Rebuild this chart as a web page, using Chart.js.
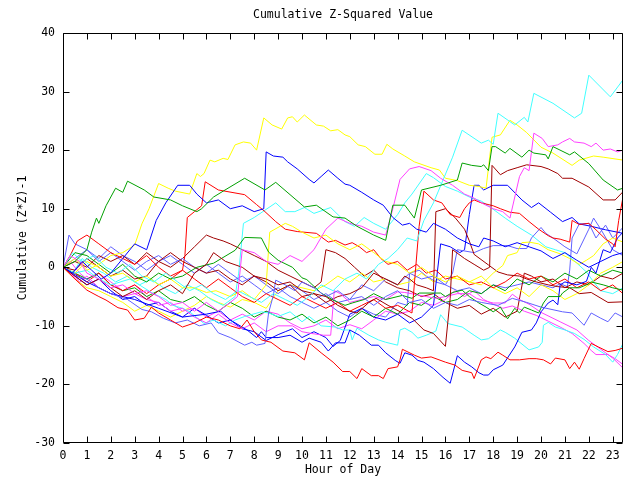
<!DOCTYPE html>
<html><head><meta charset="utf-8">
<script src="https://cdn.jsdelivr.net/npm/chart.js@4.4.0/dist/chart.umd.min.js"></script>
<style>html,body{margin:0;padding:0;background:#fff}#wrap{width:640px;height:480px}</style>
</head><body><div id="wrap"><canvas id="c" width="640" height="480"></canvas></div>
<script>
const xTicks = [0,1,2,3,4,5,6,7,8,9,10,11,12,13,14,15,16,17,18,19,20,21,22,23];
const yTicks = [-30,-20,-10,0,10,20,30,40];

// each series: [hour, cumulative value]
const redLow = [[0,0],[0.5,-2],[1,-3.9],[1.5,-5],[1.8,-5.6],[2.3,-6.9],[2.7,-7.3],[3,-9],[3.4,-8.7],[3.7,-6.8],[4,-7.8],[4.5,-9],[5,-10.2],[5.5,-9.5],[6,-8.5],[6.5,-9],[7,-10],[7.4,-10.5],[7.7,-9],[8,-11],[8.3,-12.4],[8.7,-12.8],[9.2,-14.3],[9.7,-14.6],[10.1,-15.8],[10.3,-12.9],[10.8,-14.6],[11.3,-16.2],[11.7,-17.8],[12,-17.8],[12.3,-19],[12.5,-17.3],[12.9,-18.5],[13.2,-18.5],[13.4,-19],[13.6,-17.3],[14,-17],[14.1,-15.8],[14.2,-14],[14.7,-15],[15,-15.5],[15.4,-15.3],[16,-16.2],[16.4,-16.7],[16.7,-17.6],[17.1,-18],[17.2,-19],[17.5,-15.8],[17.7,-15.3],[17.9,-15.6],[18.2,-14.5],[18.4,-15],[18.7,-15.8],[19.1,-15.8],[19.5,-15.6],[19.8,-15.6],[20.1,-15.8],[20.4,-16.5],[20.6,-15.5],[21,-15.8],[21.2,-17.3],[21.4,-16.2],[21.6,-17.4],[21.8,-15.6],[22.1,-13],[22.4,-13.6],[22.8,-14.4],[23.1,-14.2],[23.43,-13.8]];
const greenTop = [[0,0],[0.5,1],[1,3],[1.2,6],[1.4,8.4],[1.5,7.5],[1.8,10.5],[2.2,13.5],[2.5,12.8],[2.7,14.7],[3.4,13.2],[3.8,12],[4.5,11.5],[5,10.5],[5.6,9.5],[5.8,10],[6.3,12],[6.7,13],[7.6,15.2],[8.45,13.2],[8.9,14.5],[10.1,10.3],[10.6,10.6],[11.3,8.6],[11.8,8.4],[12.3,7],[13,5.5],[13.5,4.6],[13.8,10.6],[14.3,10.6],[14.7,8.4],[15,13.2],[15.8,14],[16.5,14.9],[16.7,17.8],[17.1,17.4],[17.5,17.2],[17.6,17.5],[17.8,16.5],[17.95,20.6],[18.1,20.6],[18.5,19.5],[18.7,20.3],[19.2,18.8],[19.5,20],[19.7,19.5],[20.2,19.2],[20.3,18.5],[20.5,20.6],[21.2,19.2],[21.4,19.7],[22,17.7],[22.6,14.9],[23.2,13.2],[23.43,13.5]];
const blueA = [[0,0],[0.4,-1],[0.8,1],[1.2,-0.5],[1.6,-2],[2,-1],[2.5,1.5],[3,4],[3.5,3],[3.9,8],[4.3,11],[4.8,14],[5.3,14],[5.6,12.5],[6,11],[6.5,11.5],[7,10],[7.5,10.5],[8,9.5],[8.4,10],[8.5,19.7],[8.8,19],[9.2,18.8],[9.4,18],[9.8,16.8],[10.3,15],[10.5,14.4],[10.8,15.5],[11.1,16.6],[11.5,15.2],[11.8,14.2],[12,14],[12.5,12.8],[13,11.5],[13.4,10.6],[13.8,8.5],[14.2,7.2],[14.5,7.5],[14.8,6.5],[15.2,6],[15.5,7.5],[16,6.5],[16.5,5],[17,4],[17.4,3.5],[17.6,5],[18,4.5],[18.5,3.5],[19,4.2],[19.5,3.5],[20,2.8],[20.5,1.5],[21,2.5],[21.5,1.2],[22,0],[22.5,1],[23,2],[23.43,2.5]];
const magentaA = [[0,0],[0.3,2],[0.7,1],[1,-1],[1.5,-2],[2,-3.5],[2.5,-3],[3,-4.5],[3.5,-4],[4,-5],[4.5,-6.5],[5,-6],[5.5,-7.5],[6,-6],[6.5,-7.5],[7,-6],[7.3,-5],[7.5,3],[8,2.5],[8.5,1],[9,0.5],[9.5,2],[10,1],[10.5,3],[11,6.5],[11.5,8.4],[12,7.5],[12.5,7],[13,6],[13.5,5.5],[13.8,10],[14.1,15],[14.5,16.8],[14.9,17.2],[15.4,16.5],[15.8,15.2],[16.3,14],[16.8,12.5],[17.2,11.8],[17.6,10.8],[18,10],[18.4,9.5],[18.7,8.4],[19.1,15.5],[19.3,17],[19.5,16.5],[19.7,22.9],[20.05,22],[20.3,20.6],[20.7,20.9],[20.9,21.4],[21.2,22],[21.4,21.4],[21.8,21.2],[22.1,20.6],[22.3,21.2],[22.6,20],[22.9,20.2],[23.2,19.7],[23.43,20]];
const cyanA = [[0,0],[0.4,2.5],[0.8,1],[1.3,2],[1.8,0],[2.3,-1],[2.8,0.5],[3.3,-1.5],[3.8,-2.5],[4.3,-1],[4.8,-2.5],[5.3,-4],[5.8,-3],[6.3,-4.5],[6.8,-5.5],[7.3,-4],[7.8,-5],[8.3,-6],[8.8,-4.5],[9.3,-5.5],[9.8,-6.5],[10.3,-5],[10.8,-3],[11.3,-4],[11.8,-2],[12.3,-1],[12.7,-2],[13.2,0.5],[13.6,1.5],[14,3],[14.4,5],[14.8,4.5],[15.1,8],[15.5,11],[15.9,14.9],[16.3,18.8],[16.7,23.4],[17.5,21.2],[17.8,21.7],[18,21],[18.2,26.3],[18.9,24.3],[19.3,25.6],[19.45,24.8],[19.7,29.7],[20.5,28],[21.4,25.5],[21.7,26.3],[22,32.8],[22.9,29.1],[23.43,32]];
const yellowA = [[0,0],[0.5,1.5],[1,-0.5],[1.5,0.5],[2,2],[2.5,2.5],[3,3.8],[3.3,7.4],[3.6,10],[4,14.3],[4.4,13.5],[4.7,13],[5.3,12.5],[5.6,16],[5.75,15.5],[5.9,16],[6.15,18.3],[6.35,18],[6.7,18.6],[6.9,18.4],[7.2,20.9],[7.55,21.4],[7.85,21.2],[8.1,20],[8.4,25.5],[8.75,24.3],[9.15,23.6],[9.4,25.5],[9.6,25.7],[9.8,24.8],[10.1,26],[10.6,24.3],[10.9,24.1],[11.2,23.3],[11.5,23.5],[11.8,22.6],[12,22.3],[12.35,20.9],[12.65,20.6],[13.05,19.3],[13.35,19.3],[13.55,21],[13.8,20.2],[14.3,19],[14.7,18],[15.4,17],[15.75,16.6],[16,15.2],[16.5,14.8],[17,14],[17.4,13.8],[17.7,13.5],[17.95,22.2],[18.3,22.6],[18.7,25.1],[19,24.3],[19.4,23],[20,20.5],[20.5,19.5],[21.3,17.4],[21.6,18.3],[22.2,19],[22.6,18.8],[23.43,18.3]];
const darkredA = [[0,0],[0.5,-1.5],[1,-3],[1.5,-2],[2,-3.5],[2.5,-5],[3,-4],[3.5,-5.5],[4,-4],[4.5,-3],[5,-4.5],[5.5,-1],[6,0.5],[6.3,2.5],[6.8,1],[7.5,0],[8,-1.5],[8.5,-2],[9,-3],[9.5,-2.5],[10,-4],[10.5,-4.5],[11,-5],[11.5,-6.5],[12,-7.5],[12.3,-7.8],[12.8,-6],[13.1,-5.3],[13.6,-6.5],[14.2,-7.8],[14.6,-8.7],[15.1,-10.7],[15.5,-11.3],[16,-13.5],[16.2,-5.3],[16.3,3],[16.8,1.5],[17.2,0.5],[17.6,-0.5],[17.85,0],[17.95,17.4],[18.3,15.8],[18.6,16.5],[19,17],[19.4,17.5],[20,17.2],[20.3,16.8],[20.7,16],[20.9,15.2],[21.3,15.2],[22,13.7],[22.6,11.5],[23.1,11.5],[23.43,12.9]];
const slateLow = [[0,0],[0.5,-1.5],[1,-2],[1.5,-3.5],[2,-4.5],[2.7,-5.5],[3.3,-7.2],[3.7,-7.6],[4.2,-8.7],[4.7,-9.5],[5.2,-9],[5.7,-10],[6.2,-9.5],[6.5,-11.2],[7,-12],[7.6,-13.3],[7.9,-12.8],[8.1,-13.3],[8.45,-13],[8.6,-7.8],[8.8,-4.8],[8.9,-2.2],[9.3,-3],[9.7,-4],[10,-2.5],[10.5,-3.5],[11,-5],[11.5,-4],[12,-5.5],[12.5,-5],[13,-6.5],[13.5,-5],[14,-4],[14.5,-6],[15,-5.5],[15.5,-7],[16,-6],[16.5,-6.5],[17,-5.5],[17.5,-6],[18.2,-6.5],[18.8,-5.3],[19.4,-6],[20,-6.8],[20.9,-7.6],[21.3,-7.8],[21.8,-9.9],[22.1,-7.8],[22.5,-8.7],[22.8,-9.3],[23.1,-7.8],[23.43,-8.5]];
const redMid = [[0,0],[0.3,2],[0.6,4.5],[1,5.5],[1.5,4],[2,2.5],[2.5,1.5],[3,0.5],[3.5,2],[4,0],[4.5,-1.5],[5,-0.5],[5.5,-2],[6,-3.5],[6.5,-2],[7,-3.5],[7.5,-5],[8,-6],[8.5,-4.5],[9,-5.5],[9.5,-6.5],[10,-5],[10.5,-6],[11,-7],[11.5,-6],[12,-7.5],[12.5,-6.5],[13,-5.5],[13.5,-7],[14,-6.5],[14.6,-7.8],[14.9,7],[15.1,13],[15.5,11.5],[15.85,11],[16.2,9],[16.6,8.5],[16.8,10],[17,11],[17.2,11.5],[17.5,11],[18,10.5],[18.3,10],[18.7,9.4],[19.1,9.2],[19.5,7.8],[19.9,6.5],[20.3,5.4],[20.5,5],[20.8,4.8],[21.2,4.3],[21.3,8],[21.6,7.3],[22,7.5],[22.3,6.4],[22.7,4.8],[23,4],[23.1,3.5],[23.25,8],[23.43,12]];
const redHigh = [[0,0],[0.5,-1],[1,-2.5],[1.5,-1],[2,-3],[2.5,-4],[3,-3],[3.5,-4.5],[4,-3],[4.5,-2],[5,-0.5],[5.1,2],[5.2,8.5],[5.5,9.5],[5.8,10.5],[5.95,14.6],[6.5,13.2],[7.6,12.4],[8.1,10.7],[8.45,9.5],[8.9,7.8],[9.3,6.5],[9.8,6.1],[10.6,5.8],[11.1,4.3],[11.4,4.6],[11.8,3.8],[12.1,4.2],[12.4,3.5],[12.7,2.5],[13,3],[13.3,1.5],[13.6,0.5],[14,1],[14.4,-0.5],[14.8,0.5],[15.2,-1],[15.6,-0.5],[16,-2],[16.5,-1.5],[17,-3],[17.5,-2.5],[18,-3.5],[18.5,-2.5],[19,-1],[19.5,-2],[20,-1.5],[20.5,-3],[21,-2],[21.5,-3.5],[22,-2.5],[22.5,-4],[23,-3],[23.43,-4.5]];
const greenMid = [[0,0],[0.5,2.5],[1,2],[1.5,0.5],[2,-1],[2.5,0.5],[3,-1.5],[3.5,-2.5],[4,-1],[4.5,-2],[5,-1.5],[5.6,0],[6.3,0.7],[7.2,2.9],[7.6,5.1],[8.3,5],[8.6,2.6],[9,1.2],[9.6,0],[10,-1.8],[10.2,-2.1],[10.8,-4.4],[11.3,-5.6],[11.8,-6.5],[12.1,-6.1],[12.6,-5.5],[13,-4.5],[13.5,-5.5],[14.2,-4.8],[14.6,-5.3],[14.9,-4.4],[15.8,-4.4],[16,-5],[16.3,-4.3],[16.7,-3.9],[17,-5],[17.4,-6.1],[17.7,-6.8],[18,-7.6],[18.3,-6.8],[18.6,-8.8],[18.9,-7],[19.1,-7.8],[19.3,-6.8],[19.6,-7.3],[19.9,-7.8],[20.1,-6.1],[20.3,-5],[20.8,-5],[20.9,-4.4],[21.2,-3.5],[21.6,-3.5],[21.9,-3],[22.1,-2.5],[22.6,-3],[23,-3.5],[23.43,-3.9]];
const blueLow = [[0,0],[1,-2.5],[2,-4.5],[3,-5.5],[4,-7],[5,-8.5],[6,-8],[6.6,-7.5],[7,-9],[7.7,-10.7],[8.1,-12],[8.3,-11],[8.5,-12],[9,-12],[9.5,-11.6],[10,-12.8],[10.3,-12.1],[10.8,-12.8],[11.1,-14.3],[11.4,-12.9],[11.8,-12.9],[12,-10.7],[12.4,-11.6],[12.9,-13.3],[13.2,-13.3],[13.5,-14.6],[13.9,-15.9],[14.1,-16.4],[14.3,-14.6],[14.6,-15],[14.85,-15.9],[15.1,-16.2],[15.5,-17.3],[15.9,-18.8],[16.2,-19.8],[16.5,-15.1],[16.8,-16.2],[17.1,-17],[17.4,-18],[17.6,-18.4],[17.8,-18.4],[18,-17.5],[18.4,-16.7],[18.9,-13.6],[19.2,-11.1],[19.6,-10.7],[19.8,-9.5],[20,-7.6],[20.3,-6.1],[20.5,-5.6],[20.7,-6.4],[20.8,-3],[21,-2.5],[21.5,-3],[21.9,-2.4],[22.1,0],[22.3,-1],[22.6,3],[22.9,2.5],[23.2,5],[23.43,6]];
const magentaB = [[0,0],[0.3,-1],[0.7,-2.5],[1,-1.5],[1.5,-3.5],[2,-4.5],[2.5,-5],[3,-4.5],[3.5,-5.5],[4,-6],[4.5,-7.5],[5,-7],[5.5,-8.5],[6,-9.5],[6.5,-8],[7,-9.5],[7.5,-10.5],[8,-9.5],[8.5,-11],[9,-10],[9.6,-10],[10,-11],[10.4,-11.3],[10.9,-11.6],[11.2,-11.6],[11.35,-4],[11.6,-4.5],[12,-6],[12.5,-5.5],[13,-5],[13.5,-5.5],[14,-4.2],[14.3,-4.3],[14.7,-4.6],[15.2,-5],[15.6,-5.3],[16,-5],[16.5,-4.5],[17,-4.5],[17.3,-5.3],[17.6,-5.7],[18,-6.1],[18.5,-6.1],[18.8,-4.6],[19.1,-5.5],[19.5,-6.3],[20,-7.7],[20.8,-9.3],[21.5,-10.7],[22,-12.5],[22.5,-14],[23,-15.5],[23.43,-17.2]];
const magentaC = [[0,0],[0.3,1],[0.7,-1],[1,-2],[1.5,-1],[2,-2.5],[2.5,-4],[3,-3],[3.5,-5],[4,-6.5],[4.5,-6],[5,-7.5],[5.5,-7],[6,-8.5],[6.5,-7.5],[7,-9],[7.5,-8],[8,-9],[8.5,-7.5],[9,-8],[9.5,-9.5],[10,-10.5],[10.5,-10],[11,-9],[11.5,-10.5],[12,-9.8],[12.5,-10.5],[13,-9],[13.5,-7.5],[14,-8],[14.5,-7.5],[15,-6],[15.5,-6.5],[16,-5.5],[16.4,-4],[16.8,-5],[17.2,-4],[17.6,-5.5],[18,-6.3],[18.4,-7],[18.8,-6.6],[19.3,-7.5],[19.8,-8.2],[20.3,-9.2],[20.8,-10.2],[21.3,-11.3],[21.8,-13],[22.1,-14.2],[22.3,-14.9],[22.8,-14.9],[23.1,-15.6],[23.43,-16.6]];
const cyanLow = [[0,0],[0.5,-1],[1,-0.5],[1.5,-2],[2,-3],[2.8,-2],[3.7,-4.3],[4.3,-5.5],[4.6,-6.5],[5,-7],[5.3,-7.6],[5.9,-9.6],[6.3,-9],[6.8,-10],[7.2,-9],[7.6,-8.4],[8.3,-7.6],[8.6,-7.8],[9,-8.4],[9.5,-7.6],[10,-9.3],[10.3,-8.4],[10.8,-10],[11.4,-10.2],[11.7,-10.7],[12,-10.7],[12.1,-12.4],[12.3,-10.4],[12.8,-11.6],[13.2,-12.4],[13.5,-12.8],[14,-13.3],[14.1,-10.7],[14.3,-10.4],[14.6,-11.1],[14.85,-12.1],[15.2,-11.6],[15.6,-10.9],[15.8,-8.1],[16.1,-9.6],[16.7,-10.2],[17.2,-11.6],[17.5,-12.4],[17.8,-12.2],[18,-11.6],[18.3,-10.7],[18.5,-11.1],[18.9,-12.1],[19.5,-14.1],[19.9,-13.6],[20.05,-12.8],[20.1,-9.9],[20.3,-9.4],[20.6,-10.2],[21,-10.7],[21.4,-11.3],[21.8,-12.3],[22.2,-13.6],[22.7,-14.9],[23,-16.2],[23.2,-14.9],[23.43,-13]];
const yellowMid = [[0,0],[0.5,-1],[1,1],[1.5,0],[2,-1.5],[2.5,-1],[3,-2.5],[3.5,-1.5],[4,-3],[4.5,-2],[5,-3.5],[5.5,-3.5],[6,-4.3],[6.4,-4],[7,-5],[7.5,-4],[8,-5.5],[8.5,-3],[8.65,6],[9.3,7.5],[9.6,7],[10,6],[10.5,5],[11,5.5],[11.5,4],[12,3],[12.5,4],[13,2.5],[13.5,1],[14,0.5],[14.5,-1],[15,0],[15.5,-1.5],[16,-2.5],[16.5,-1.5],[17,-2.5],[17.5,-3],[18,-1],[18.4,0.3],[18.6,2],[19,2.5],[19.2,4.2],[19.5,4.3],[19.9,4],[20.3,3],[20.8,2.3],[21.2,1.5],[21.6,0.5],[21.9,1.2],[22.2,2],[22.6,4],[23,5],[23.43,4.3]];
const yellowLow = [[0,0],[0.5,-2],[1,-3.5],[1.5,-4],[2,-5],[2.5,-6],[3,-7.5],[3.5,-6.5],[4,-7.5],[4.5,-8.5],[5,-7.5],[5.5,-6.5],[6,-5],[6.5,-6],[7,-6.8],[7.5,-5.5],[8,-6],[8.5,-7],[9,-4],[9.5,-3],[10,-3.5],[10.5,-4],[11,-3],[11.5,-1.5],[12,-2.5],[12.5,-1],[13,-2.5],[13.5,-2],[14,-3],[14.5,-2.5],[15,-1],[15.5,-2.5],[16,-1.5],[16.5,-2],[17,-2.5],[17.5,-1.5],[18,-3.5],[18.5,-4.5],[19,-3.5],[19.5,-5],[20,-3],[20.5,-4],[21,-5.5],[21.5,-4.5],[22,-3],[22.5,-1],[23,0],[23.43,1]];
const darkredB = [[0,0],[0.5,-0.5],[1,1.5],[1.5,0],[2,-1.5],[2.5,-0.5],[3,-2],[3.5,-1.5],[4,1],[4.5,2.5],[5,1],[5.5,0],[6,-1],[6.5,-0.5],[7,-2],[7.5,-3],[8,-1.5],[8.5,-2.5],[9,-4],[9.5,-3],[10,-5],[10.5,-4.5],[11,-6],[11.5,-5],[12,-4.5],[12.5,-3.5],[13,-1],[13.5,-2],[14,-3],[14.3,-1.5],[14.5,-2],[14.8,-3],[15.2,-3.5],[15.5,-4],[15.6,9.5],[16,10],[16.4,8.5],[16.8,6.5],[17,4.5],[17.2,2.2],[17.8,0.4],[18.2,-0.8],[18.6,-1.3],[19.1,-1.5],[19.4,-2],[19.8,-2.5],[20.3,-3],[20.7,-3.3],[21.2,-3.5],[21.6,-4.5],[22.1,-4.3],[22.8,-6],[23.43,-5.9]];
const darkredC = [[0,0],[0.5,1],[1,0],[1.5,2],[2,1],[2.5,2],[3,0.5],[3.5,2.5],[4,1],[4.5,0],[5,1.5],[5.5,3.5],[6,5.5],[6.3,5],[6.7,4.5],[7,4],[7.5,3],[8,2],[8.5,1],[9,-0.5],[9.5,-1.5],[10,-2.5],[10.5,-3.5],[10.8,-2.5],[11,3],[11.4,2.5],[11.8,1.5],[12.2,0],[12.6,-1.5],[13,-0.5],[13.5,-2.5],[14,-3.5],[14.5,-4],[15,-5],[15.5,-4.5],[16,-6],[16.5,-7],[17,-6.5],[17.5,-8],[18,-7],[18.5,-8.5],[19,-7.5],[19.3,-1],[19.6,-1.5],[20,-2.5],[20.5,-2],[21,-3.5],[21.5,-2.5],[22,-3],[22.5,-1.5],[23,-2],[23.43,-1]];
const blueC = [[0,0],[0.5,-1.5],[1,-3],[1.5,-2],[2,-4],[2.5,-5.5],[3,-5],[3.5,-6.5],[4,-6],[4.5,-7.5],[5,-8.5],[5.5,-7],[6,-8.2],[6.5,-9.5],[7,-9],[7.5,-10.5],[8,-11],[8.5,-12.5],[9,-11.5],[9.3,-11],[9.6,-10.5],[10,-12],[10.5,-11],[11,-12],[11.3,-13.5],[11.6,-12.5],[12,-8],[12.5,-7],[13,-8.5],[13.5,-9],[14,-8],[14.5,-9.5],[15,-8.5],[15.5,-6.5],[15.8,4],[16.2,3.5],[16.6,2.5],[16.8,3],[17,9],[17.2,14],[17.4,14],[17.6,13.2],[18,14],[18.6,14],[19.2,11.5],[19.6,10.2],[19.9,11],[20.4,9.4],[20.9,7.8],[21.3,8.5],[21.6,7.4],[22.1,7],[22.7,6.4],[23.43,5.8]];
const blueD = [[0,0],[0.5,1.5],[1,3],[1.5,1.5],[2,3.5],[2.5,2],[3,1],[3.5,-0.5],[4,1],[4.5,2],[5,0.5],[5.5,-1],[6,0.5],[6.5,-1],[7,-2.5],[7.5,-1.5],[8,-3],[8.5,-4.5],[9,-3.5],[9.5,-5],[10,-6],[10.5,-7],[11,-6],[11.5,-7.5],[12,-8.5],[12.5,-7],[13,-8],[13.5,-8.5],[14,-6],[14.4,-6.5],[14.5,-1],[14.9,-0.5],[15.2,-1.5],[15.6,-2.5],[16,-3],[16.5,-4],[17,-3.5],[17.5,-4.5],[18,-3],[18.5,-3.5],[19,-3],[19.5,-2.5],[20,-3],[20.5,-3.5],[20.8,-2.8],[21.1,-3.3],[21.2,-0.5],[21.3,5],[21.6,7.4],[22,7.5],[22.3,5],[22.7,7.2],[23,5],[23.43,6.8]];
const cyanMid = [[0,0],[0.4,-1],[0.8,1.5],[1.2,0],[1.7,-1],[2.2,-2.5],[2.7,-1.5],[3.2,-3],[3.7,-2],[4.2,-3.5],[4.7,-4.5],[5.2,-3],[5.7,-4],[6.2,-5.5],[6.7,-6.5],[7.2,-5],[7.35,-1],[7.55,7.5],[8,8.5],[8.9,11],[9.3,9.5],[9.7,9.5],[10.1,10.2],[10.5,9.2],[11.2,10.2],[11.8,7.8],[12.2,7],[12.6,8.5],[13,7.5],[13.5,6.5],[14,9],[14.3,11],[14.6,12.5],[15.2,16],[15.5,15.3],[16,13.8],[16.5,13],[17,12],[17.5,11.3],[17.8,10.5],[18.5,8.4],[19,7],[19.6,5.5],[20.2,3.5],[20.6,3],[21,2.5],[21.5,0.7],[21.9,-0.8],[22.2,-2.5],[22.5,-4],[23,-4.5],[23.43,-3.5]];
const greenLow = [[0,0],[0.5,-1],[1,-2],[1.5,-1],[2,-3],[2.5,-4],[3,-3.5],[3.5,-5],[4,-4],[4.5,-5.5],[5,-6],[5.5,-5],[6,-6.5],[6.5,-7.5],[7,-6],[7.5,-7],[8,-8.5],[8.5,-7.5],[9,-8.5],[9.5,-9],[10,-8],[10.5,-9.5],[11,-8.5],[11.5,-10],[12,-9],[12.5,-7.5],[13,-8.5],[13.5,-7],[14,-8],[14.5,-6],[15,-6.5],[15.5,-5],[16,-6],[16.5,-5.5],[17,-4],[17.5,-4.5],[18,-3],[18.5,-4],[19,-2],[19.5,-3],[20,-1.5],[20.5,-2.5],[21,-1],[21.5,-2],[22,-0.5],[22.5,-1.5],[23,-0.5],[23.43,-1]];
const slateMid = [[0,0],[0.25,5.5],[0.5,4],[1,3],[1.5,1],[2,2.5],[2.5,1],[3,-0.5],[3.5,1],[4,2],[4.5,0.5],[5,1.5],[5.5,0],[6,-1],[6.5,0.5],[7,-1],[7.5,-2.5],[8,-1.5],[8.5,-3],[9,-4.5],[9.5,-3],[10,-4],[10.5,-5.5],[11,-4.5],[11.5,-6],[12,-5.5],[12.5,-3],[13,-4],[13.5,-2],[14,-3],[14.5,-1],[15,-2],[15.5,-1.5],[16,-3],[16.3,-1],[16.5,3],[17.2,2.5],[17.6,3.2],[18,3.7],[18.6,3.7],[19,3.2],[19.4,3.2],[19.6,5],[20,6.8],[20.2,5.8],[20.5,5],[21,3.5],[21.5,2.3],[22,6.5],[22.2,8.4],[22.5,6.5],[23,3],[23.43,2]];

const seriesList = [redLow, greenTop, blueA, magentaA, cyanA, yellowA, darkredA, slateLow,
  redMid, greenMid, blueLow, magentaB, cyanLow, yellowMid, darkredB, slateMid,
  redHigh, greenLow, blueC, magentaC, cyanMid, yellowLow, darkredC, blueD];
const palette = ['#ff0000','#00a000','#0000ff','#ff40ff','#40ffff','#ffff00','#a00000','#6060ff'];

const FONT = {family:'"DejaVu Sans Mono", monospace', size:11.5, weight:'normal'};

const framePlugin = {
  id:'frame',
  afterDraw(chart){
    const {ctx, chartArea:a, scales:{x, y}} = chart;
    ctx.save();
    ctx.strokeStyle = '#000'; ctx.lineWidth = 1;
    const L = Math.round(a.left)+0.5, R = Math.round(a.right)-0.5, T = Math.round(a.top)+0.5, B = Math.round(a.bottom)-0.5;
    ctx.beginPath();
    ctx.rect(L, T, R-L, B-T);
    yTicks.forEach(v => { const p = Math.round(y.getPixelForValue(v))+0.5; ctx.moveTo(L, p); ctx.lineTo(L+6, p); ctx.moveTo(R, p); ctx.lineTo(R-6, p); });
    xTicks.forEach(v => { const p = Math.round(x.getPixelForValue(v))+0.5; ctx.moveTo(p, B); ctx.lineTo(p, B-6); ctx.moveTo(p, T); ctx.lineTo(p, T+6); });
    ctx.stroke();
    ctx.restore();
  }
};

new Chart(document.getElementById('c'), {
  type:'line',
  data:{datasets: seriesList.map((s,i) => ({
    data: s.map(p => ({x:p[0], y:p[1]})),
    borderColor: palette[i % palette.length],
    backgroundColor: palette[i % palette.length],
    borderWidth:1, pointRadius:0, tension:0, fill:false
  }))},
  options:{
    responsive:false, animation:false, devicePixelRatio:1,
    layout:{padding:{left:0, right:17, top:0, bottom:0}},
    plugins:{
      legend:{display:false}, tooltip:{enabled:false},
      title:{display:true, fullSize:false, text:'Cumulative Z-Squared Value', color:'#000', font:FONT, padding:{top:8, bottom:11.2}}
    },
    scales:{
      x:{type:'linear', min:0, max:23.43,
        afterBuildTicks: s => { s.ticks = xTicks.map(v => ({value:v})); },
        afterFit: s => { s.height = 37; },
        grid:{display:false, drawTicks:false}, border:{display:false},
        ticks:{padding:6, color:'#000', font:FONT, maxRotation:0, autoSkip:false},
        title:{display:true, text:'Hour of Day', color:'#000', font:FONT, padding:{top:0, bottom:3.1}}
      },
      y:{type:'linear', min:-30, max:40,
        afterBuildTicks: s => { s.ticks = yTicks.map(v => ({value:v})); },
        afterFit: s => { s.width = 63; },
        grid:{display:false, drawTicks:false}, border:{display:false},
        ticks:{padding:8, color:'#000', font:FONT},
        title:{display:true, text:'Cumulative (Z*Z)-1', color:'#000', font:FONT, padding:{top:16.1, bottom:0}}
      }
    }
  },
  plugins:[framePlugin]
});
</script></body></html>
